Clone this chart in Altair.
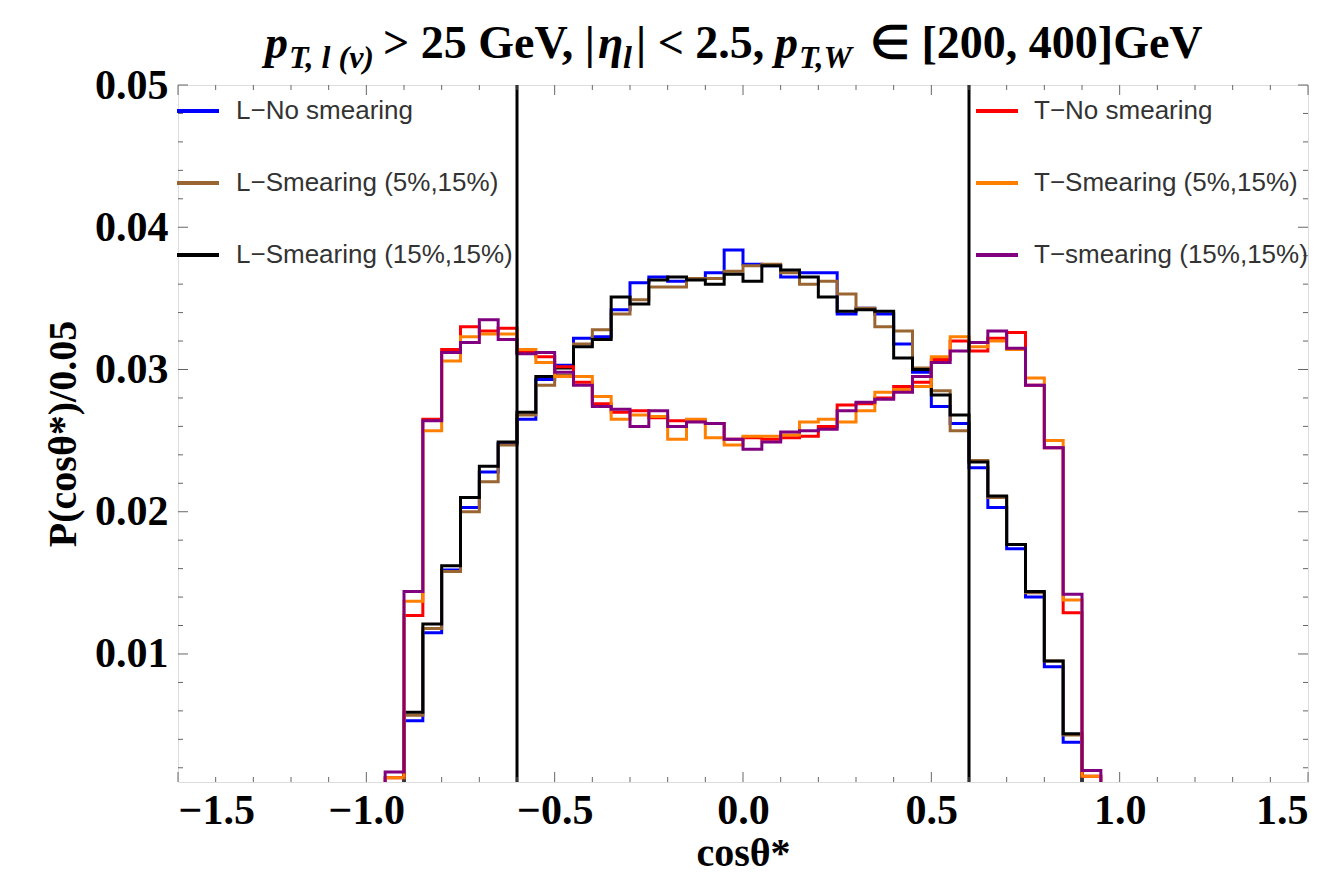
import altair as alt
import pandas as pd

# ---------------- data ----------------
bin_left = [-1.00, -0.95, -0.90, -0.85, -0.80, -0.75, -0.70, -0.65, -0.60, -0.55,
            -0.50, -0.45, -0.40, -0.35, -0.30, -0.25, -0.20, -0.15, -0.10, -0.05,
            0.00, 0.05, 0.10, 0.15, 0.20, 0.25, 0.30, 0.35, 0.40, 0.45,
            0.50, 0.55, 0.60, 0.65, 0.70, 0.75, 0.80, 0.85, 0.90, 0.95]
bin_right_end = 1.00

L_names = ["L\u2212No smearing", "L\u2212Smearing (5%,15%)", "L\u2212Smearing (15%,15%)"]
L_colors = ["#0000ff", "#996633", "#000000"]
T_names = ["T\u2212No smearing", "T\u2212Smearing (5%,15%)", "T\u2212smearing (15%,15%)"]
T_colors = ["#ff0000", "#ff8000", "#800080"]

L_no = [0, 0, 0.0053, 0.0115, 0.0159, 0.0203, 0.0228, 0.0248, 0.0265, 0.0293,
        0.0303, 0.0322, 0.0323, 0.0342, 0.0361, 0.0365, 0.0362, 0.0364, 0.0368, 0.0384,
        0.0374, 0.0373, 0.0365, 0.0368, 0.0368, 0.0339, 0.0343, 0.0339, 0.0318, 0.0298,
        0.0274, 0.0262, 0.0231, 0.0203, 0.0174, 0.0140, 0.0091, 0.0038, 0, 0]
L_5_15 = [0, 0, 0.0057, 0.0118, 0.0158, 0.0200, 0.0221, 0.0247, 0.0268, 0.0289,
          0.0296, 0.0318, 0.0328, 0.0339, 0.0349, 0.0358, 0.0358, 0.0364, 0.0364, 0.0369,
          0.0373, 0.0374, 0.0368, 0.0360, 0.0362, 0.0353, 0.0343, 0.0330, 0.0327, 0.0301,
          0.0285, 0.0257, 0.0236, 0.0210, 0.0177, 0.0143, 0.0095, 0.0043, 0, 0]
L_15_15 = [0, 0, 0.0059, 0.0121, 0.0162, 0.0210, 0.0232, 0.0249, 0.0270, 0.0295,
           0.0301, 0.0316, 0.0321, 0.0351, 0.0346, 0.0363, 0.0365, 0.0363, 0.0360, 0.0367,
           0.0362, 0.0373, 0.0370, 0.0365, 0.0351, 0.0341, 0.0342, 0.0341, 0.0308, 0.0300,
           0.0282, 0.0268, 0.0235, 0.0211, 0.0177, 0.0144, 0.0095, 0.0044, 0, 0]

T_no = [0, 0.0013, 0.0127, 0.0265, 0.0314, 0.0330, 0.0327, 0.0329, 0.0312, 0.0309,
        0.0302, 0.0291, 0.0276, 0.0270, 0.0271, 0.0266, 0.0264, 0.0264, 0.0262, 0.0251,
        0.0252, 0.0251, 0.0252, 0.0253, 0.0260, 0.0275, 0.0276, 0.0280, 0.0288, 0.0291,
        0.0307, 0.0320, 0.0313, 0.0322, 0.0326, 0.0289, 0.0245, 0.0129, 0.0014, 0]
T_5_15 = [0, 0.0013, 0.0137, 0.0257, 0.0306, 0.0323, 0.0325, 0.0325, 0.0314, 0.0305,
          0.0295, 0.0295, 0.0281, 0.0265, 0.0268, 0.0267, 0.0251, 0.0265, 0.0252, 0.0247,
          0.0253, 0.0253, 0.0254, 0.0263, 0.0265, 0.0263, 0.0271, 0.0284, 0.0286, 0.0288,
          0.0309, 0.0323, 0.0316, 0.0320, 0.0314, 0.0294, 0.0250, 0.0138, 0.0014, 0]
T_15_15 = [0, 0.0017, 0.0144, 0.0264, 0.0312, 0.0319, 0.0335, 0.0321, 0.0311, 0.0312,
           0.0298, 0.0289, 0.0274, 0.0272, 0.0260, 0.0271, 0.0260, 0.0263, 0.0262, 0.0251,
           0.0244, 0.0249, 0.0256, 0.0257, 0.0258, 0.0271, 0.0277, 0.0279, 0.0284, 0.0295,
           0.0305, 0.0313, 0.0319, 0.0327, 0.0315, 0.0289, 0.0245, 0.0142, 0.0018, 0]

cut_lines = [-0.6, 0.6]

x_major = [-1.5, -1.0, -0.5, 0.0, 0.5, 1.0, 1.5]
x_minor = [-1.4, -1.3, -1.2, -1.1, -0.9, -0.8, -0.7, -0.6, -0.4, -0.3, -0.2, -0.1,
           0.1, 0.2, 0.3, 0.4, 0.6, 0.7, 0.8, 0.9, 1.1, 1.2, 1.3, 1.4]
y_major = [0.01, 0.02, 0.03, 0.04, 0.05]
y_minor = [0.002, 0.004, 0.006, 0.008, 0.012, 0.014, 0.016, 0.018,
           0.022, 0.024, 0.026, 0.028, 0.032, 0.034, 0.036, 0.038,
           0.042, 0.044, 0.046, 0.048]


def step_rows(name, vals):
    rows = [{"x": e, "y": v, "s": name} for e, v in zip(bin_left, vals)]
    rows.append({"x": bin_right_end, "y": vals[-1], "s": name})
    return rows


dfL = pd.DataFrame(step_rows(L_names[0], L_no) + step_rows(L_names[1], L_5_15)
                   + step_rows(L_names[2], L_15_15))
dfT = pd.DataFrame(step_rows(T_names[0], T_no) + step_rows(T_names[1], T_5_15)
                   + step_rows(T_names[2], T_15_15))

# ---------------- layout ----------------
W, H = 1130, 697
SERIF = "Liberation Serif"
SANS = "Liberation Sans"

xscale = alt.Scale(domain=[-1.5, 1.5], nice=False, zero=False)
yscale = alt.Scale(domain=[0.001, 0.05], nice=False, zero=False)

axis_style = dict(labelFont=SERIF, labelFontWeight="bold", labelColor="black",
                  titleFont=SERIF, titleFontWeight="bold", titleColor="black",
                  ticks=False, domain=False, grid=False, labelFontSize=42, titleFontSize=40)
xaxis = alt.Axis(values=x_major, format=".1f", title="cos\u03b8*",
                 labelPadding=8, titlePadding=2, **axis_style)
yaxis = alt.Axis(values=y_major, format=".2f", title="P(cos\u03b8*)/0.05",
                 labelPadding=10, titlePadding=11, **axis_style)


def legend(x, y, offset):
    return alt.Legend(title=None, orient="none", legendX=x, legendY=y, symbolType="stroke",
                      symbolSize=1764, symbolStrokeWidth=4, labelFont=SANS, labelFontSize=26,
                      labelColor="#333333", labelOffset=offset, rowPadding=36, padding=0,
                      labelLimit=0)


L_layer = alt.Chart(dfL).mark_line(interpolate="step-after", strokeWidth=3, clip=True).encode(
    x=alt.X("x:Q", scale=xscale, axis=xaxis),
    y=alt.Y("y:Q", scale=yscale, axis=yaxis),
    color=alt.Color("s:N", scale=alt.Scale(domain=L_names, range=L_colors),
                    legend=legend(-3, 3, 15)),
)
T_layer = alt.Chart(dfT).mark_line(interpolate="step-after", strokeWidth=3, clip=True).encode(
    x=alt.X("x:Q", scale=xscale, axis=xaxis),
    y=alt.Y("y:Q", scale=yscale, axis=yaxis),
    color=alt.Color("s:N", scale=alt.Scale(domain=T_names, range=T_colors),
                    legend=legend(796, 3, 14)),
)

vlines = alt.Chart(pd.DataFrame({"c": cut_lines})).mark_rule(color="black", strokeWidth=3).encode(
    x=alt.X("c:Q", scale=xscale, axis=xaxis)
)

TICK = "#666666"


def xticks(vals, L):
    d = pd.DataFrame({"v": vals})
    bot = alt.Chart(d).mark_rule(color=TICK, strokeWidth=1).encode(
        x=alt.X("v:Q", scale=xscale, axis=xaxis), y=alt.value(H), y2=alt.value(H - L))
    top = alt.Chart(d).mark_rule(color=TICK, strokeWidth=1).encode(
        x=alt.X("v:Q", scale=xscale, axis=xaxis), y=alt.value(0), y2=alt.value(L))
    return [bot, top]


def yticks(vals, L):
    d = pd.DataFrame({"v": vals})
    left = alt.Chart(d).mark_rule(color=TICK, strokeWidth=1).encode(
        y=alt.Y("v:Q", scale=yscale, axis=yaxis), x=alt.value(0), x2=alt.value(L))
    right = alt.Chart(d).mark_rule(color=TICK, strokeWidth=1).encode(
        y=alt.Y("v:Q", scale=yscale, axis=yaxis), x=alt.value(W), x2=alt.value(W - L))
    return [left, right]


tick_layers = xticks(x_major, 10) + xticks(x_minor, 5) + yticks(y_major, 10) + yticks(y_minor, 5)

# title pieces: (text, x offset from plot left, baseline offset from plot top, size, style)
MAIN_B, SUB_B = -27, -17
title_pieces = [
    ("p", 87, MAIN_B, 46, "italic"),
    ("T, l (\u03bd)", 111, SUB_B, 32, "italic"),
    ("> 25 GeV, |", 205, MAIN_B, 46, "normal"),
    ("\u03b7", 420, MAIN_B, 46, "italic"),
    ("l", 445, SUB_B, 32, "italic"),
    ("| < 2.5,", 458, MAIN_B, 46, "normal"),
    ("p", 597, MAIN_B, 46, "italic"),
    ("T,W", 621, SUB_B, 32, "italic"),
    ("\u2208 [200, 400]GeV", 692, MAIN_B, 46, "normal"),
]
title_layers = []
for txt, px, py, fs, st in title_pieces:
    title_layers.append(
        alt.Chart(alt.Data(values=[{}])).mark_text(
            font=SERIF, fontWeight="bold", fontStyle=st, fontSize=fs, align="left",
            baseline="alphabetic", color="black"
        ).encode(x=alt.value(px), y=alt.value(py), text=alt.value(txt))
    )

chart = alt.layer(
    L_layer, T_layer, vlines, *tick_layers, *title_layers
).resolve_scale(color="independent").properties(
    width=W, height=H, autosize=alt.AutoSizeParams(type="none"),
    padding={"left": 170, "top": 77, "right": 20, "bottom": 100},
).configure_view(stroke="#888888", strokeWidth=1).configure(background="white")

chart.save("out.html", embed_options={"renderer": "svg", "actions": False})
